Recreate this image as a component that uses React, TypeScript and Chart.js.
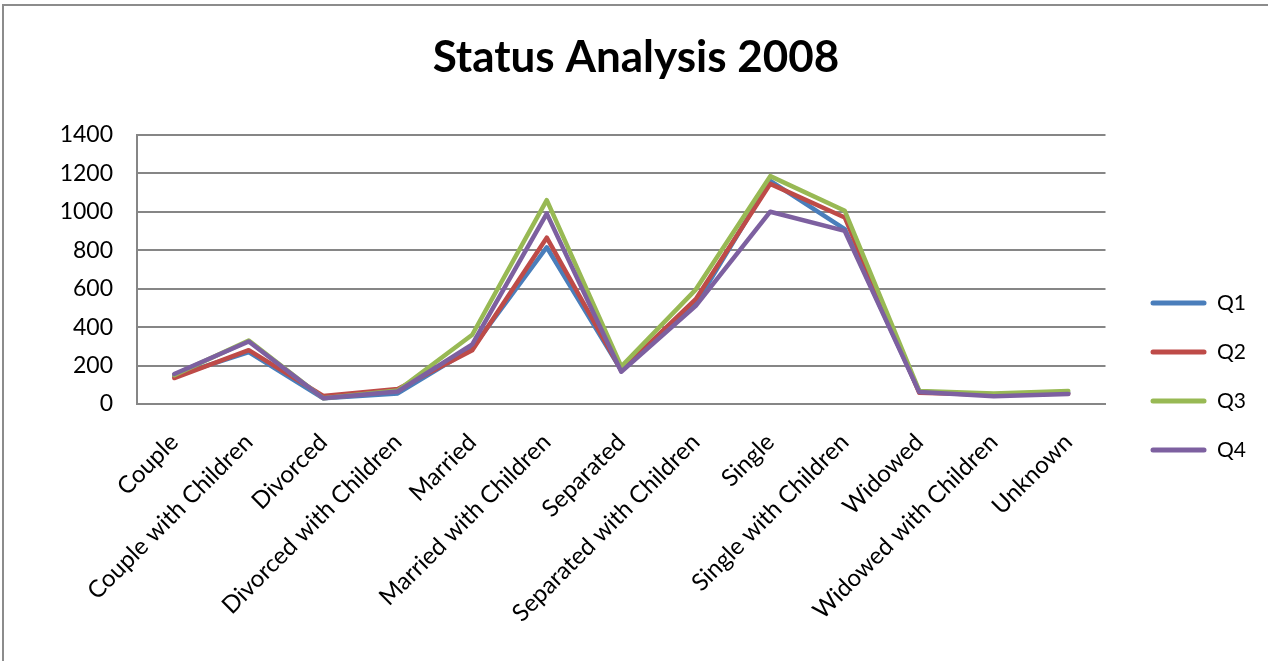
import React, { useEffect, useRef } from "react";
import { Chart, registerables } from "chart.js";

Chart.register(...registerables);

const categories = [
  "Couple",
  "Couple with Children",
  "Divorced",
  "Divorced with Children",
  "Married",
  "Married with Children",
  "Separated",
  "Separated with Children",
  "Single",
  "Single with Children",
  "Widowed",
  "Widowed with Children",
  "Unknown",
];

const q1 = [145, 270, 30, 55, 290, 815, 175, 520, 1160, 910, 65, 45, 60];
const q2 = [135, 280, 42, 78, 280, 865, 175, 545, 1145, 970, 58, 48, 55];
const q3 = [150, 330, 30, 70, 360, 1060, 195, 595, 1185, 1005, 68, 55, 68];
const q4 = [156, 325, 30, 65, 310, 990, 168, 510, 1000, 900, 62, 40, 52];

const seriesNames = ["Q1", "Q2", "Q3", "Q4"];
const seriesColors = ["#4A7EBB", "#BE4B48", "#98B954", "#7D60A0"];
const yTicks = [0, 200, 400, 600, 800, 1000, 1200, 1400];

const FONT = "Lato, 'Open Sans', sans-serif";

export default function App() {
  const ref = useRef<HTMLCanvasElement | null>(null);

  useEffect(() => {
    if (!ref.current) return;
    const values = [q1, q2, q3, q4];
    const chart = new Chart(ref.current, {
      type: "line",
      data: {
        labels: categories,
        datasets: values.map((v, i) => ({
          label: seriesNames[i],
          data: v,
          borderColor: seriesColors[i],
          backgroundColor: seriesColors[i],
          borderWidth: 4.5,
          borderJoinStyle: "round" as const,
          borderCapStyle: "round" as const,
          pointRadius: 0,
          tension: 0,
          fill: false,
          order: 3 - i,
          yAxisID: "y",
        })),
      },
      options: {
        animation: false,
        responsive: false,
        maintainAspectRatio: false,
        layout: { padding: { left: 16, right: 12, top: 0, bottom: 0 } },
        plugins: {
          title: {
            display: true,
            text: "Status Analysis 2008",
            color: "#000",
            font: { family: FONT, size: 44, weight: "bold" },
            padding: { top: 31, bottom: 51 },
          },
          legend: {
            position: "right",
            align: "center",
            title: { display: true, text: "", font: { size: 10 }, padding: { top: 80, bottom: 0 } },
            labels: {
              color: "#000",
              font: { family: FONT, size: 21 },
              boxWidth: 56,
              boxHeight: 5,
              padding: 28,
              generateLabels: (c) =>
                c.data.datasets.map((d, i) => ({
                  text: d.label as string,
                  fillStyle: seriesColors[i],
                  strokeStyle: seriesColors[i],
                  lineWidth: 0,
                  fontColor: "#000",
                  hidden: false,
                  datasetIndex: i,
                  borderRadius: 2.5,
                })),
            },
          },
          tooltip: { enabled: false },
        },
        scales: {
          x: {
            offset: true,
            grid: { display: false, drawTicks: false },
            border: { display: true, color: "#868686", width: 2 },
            ticks: {
              color: "#000",
              font: { family: FONT, size: 24 },
              maxRotation: 45,
              minRotation: 45,
              autoSkip: false,
              padding: 24,
            },
            afterFit: (s) => {
              s.height = 257;
            },
          },
          y: {
            min: 0,
            max: 1400,
            afterBuildTicks: (axis) => {
              axis.ticks = yTicks.map((v) => ({ value: v }));
            },
            grid: { color: "#868686", lineWidth: 2, drawTicks: false },
            border: { display: true, color: "#868686", width: 2 },
            ticks: {
              color: "#000",
              font: { family: FONT, size: 23 },
              padding: 24,
              callback: (v) => String(v),
            },
            afterFit: (s) => {
              s.width = 121;
            },
          },
          gap: {
            position: "right",
            display: true,
            grid: { display: false, drawTicks: false },
            border: { display: false },
            ticks: { display: false },
            afterFit: (s) => {
              s.width = 17;
            },
          },
        },
      },
    });
    return () => chart.destroy();
  }, []);

  return (
    <div style={{ position: "fixed", left: 0, top: 0, width: 1268, height: 661, background: "#fff", overflow: "hidden" }}>
      <div
        style={{
          position: "absolute",
          left: 2,
          top: 4,
          width: 1300,
          height: 700,
          borderLeft: "2px solid #8c8c8c",
          borderTop: "2px solid #8c8c8c",
        }}
      />
      <canvas ref={ref} width={1268} height={661} style={{ position: "absolute", left: 0, top: 0, width: 1268, height: 661 }} />
    </div>
  );
}
